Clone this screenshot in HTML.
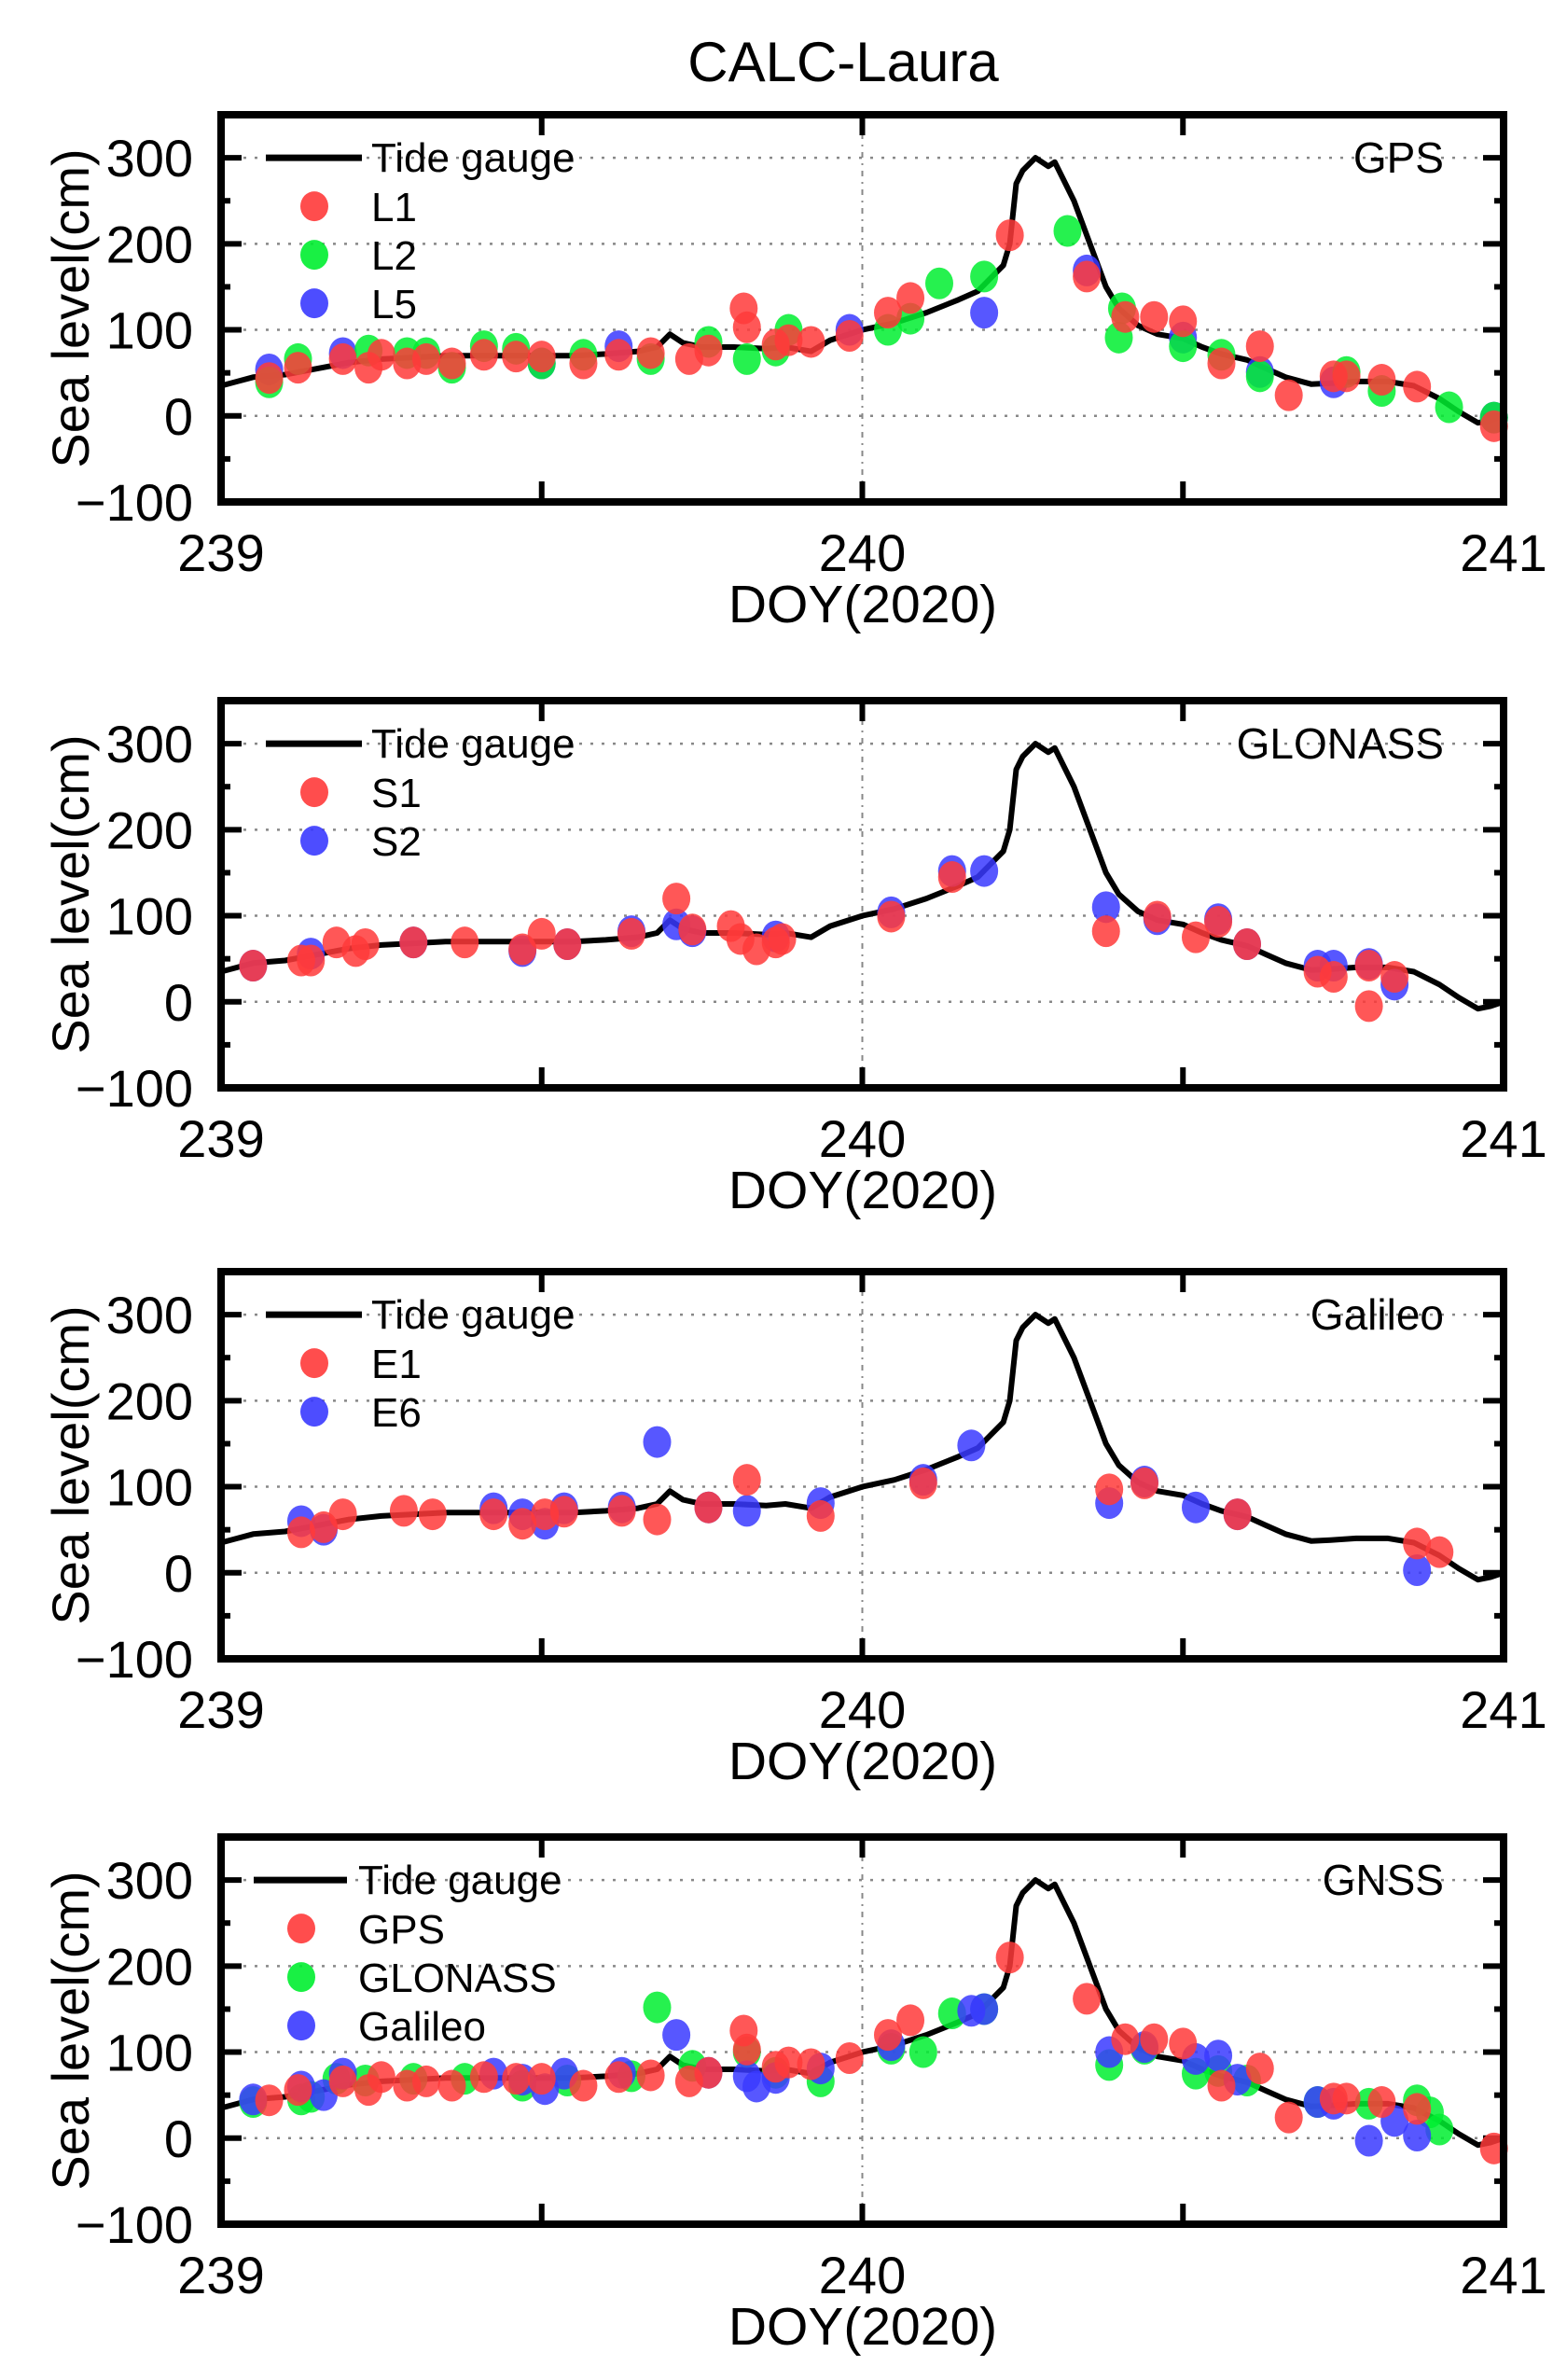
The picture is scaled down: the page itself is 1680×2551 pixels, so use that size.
<!DOCTYPE html>
<html><head><meta charset="utf-8"><style>
html,body{margin:0;padding:0;background:#fff;}
svg{display:block;font-family:"Liberation Sans",Arial,sans-serif;}
</style></head><body>
<svg id="chart" width="1680" height="2551" viewBox="0 0 1680 2551" xmlns="http://www.w3.org/2000/svg">
<text x="904" y="87" font-size="60" text-anchor="middle">CALC-Laura</text>
</svg>
<script>
// ---- data ----
const tideDays = [239.00,239.05,239.10,239.15,239.20,239.25,239.30,239.35,239.40,239.45,239.50,239.55,239.60,239.65,239.68,239.70,239.72,239.75,239.80,239.85,239.88,239.92,239.95,240.00,240.05,240.10,240.15,240.18,240.20,240.22,240.23,240.24,240.25,240.27,240.29,240.30,240.33,240.36,240.38,240.40,240.43,240.46,240.50,240.53,240.56,240.60,240.63,240.66,240.70,240.73,240.77,240.82,240.86,240.90,240.93,240.96,240.98,241.00];
const tideLevels = [35,45,48,55,62,66,68,70,70,70,70,70,72,75,80,95,85,80,80,78,80,75,88,100,108,120,135,145,160,175,200,270,285,300,290,295,250,190,150,125,105,95,90,80,72,65,55,45,37,38,40,40,35,20,5,-8,-5,0];

const l1Days = [239.075,239.12,239.19,239.23,239.25,239.29,239.32,239.36,239.41,239.46,239.50,239.565,239.62,239.67,239.73,239.76,239.815,239.82,239.865,239.885,239.92,239.98,240.04,240.075,240.23,240.35,240.41,240.455,240.50,240.56,240.62,240.665,240.735,240.755,240.81,240.865,240.985];
const l1Vals = [44,56,66,56,71,61,66,61,71,69,69,61,71,73,66,76,125,103,83,88,86,93,120,137,210,162,115,115,110,61,81,24,46,46,42,34,-12];
const l2Days = [239.075,239.12,239.23,239.29,239.32,239.36,239.41,239.46,239.50,239.565,239.67,239.76,239.82,239.865,239.885,240.04,240.075,240.12,240.19,240.32,240.405,240.40,240.50,240.56,240.62,240.755,240.81,240.915,240.985];
const l2Vals = [39,66,76,73,73,56,81,78,61,71,66,86,66,76,100,100,113,154,162,215,125,91,81,71,46,51,29,10,-2];
const l5Days = [239.075,239.19,239.50,239.62,239.98,240.19,240.35,240.50,240.62,240.735,240.985];
const l5Vals = [54,73,61,81,100,120,169,91,51,39,-2];

const s1Days = [239.05,239.125,239.14,239.18,239.21,239.225,239.30,239.38,239.47,239.50,239.54,239.64,239.71,239.735,239.795,239.81,239.835,239.865,239.875,240.045,240.14,240.38,240.46,240.52,240.555,240.60,240.71,240.735,240.79,240.79,240.83];
const s1Vals = [42,48,48,69,59,67,69,69,61,79,67,79,120,84,88,73,61,69,73,99,145,82,99,75,93,67,35,29,-5,42,29];
const s2Days = [239.05,239.14,239.30,239.47,239.54,239.64,239.71,239.735,239.865,240.045,240.14,240.19,240.38,240.46,240.555,240.60,240.71,240.735,240.79,240.83];
const s2Vals = [42,56,69,59,67,82,90,82,76,104,152,152,110,96,96,67,42,42,44,20];

const e1Days = [239.125,239.16,239.19,239.285,239.33,239.425,239.47,239.505,239.535,239.625,239.68,239.76,239.82,239.935,240.095,240.385,240.44,240.585,240.865,240.90];
const e1Vals = [47,53,68,72,68,68,57,68,71,72,62,76,108,66,104,97,104,68,34,24];
const e6Days = [239.125,239.16,239.425,239.47,239.505,239.535,239.625,239.68,239.76,239.82,239.935,240.095,240.17,240.385,240.44,240.52,240.585,240.865];
const e6Vals = [60,50,75,68,57,75,76,152,76,72,81,108,148,81,106,76,68,3];

const gnssGpsDays = l1Days;
const gnssGpsVals = l1Vals;
const gnssGloDays = [239.05,239.125,239.14,239.18,239.225,239.30,239.38,239.47,239.54,239.64,239.68,239.735,239.82,239.865,239.935,240.045,240.095,240.14,240.19,240.385,240.44,240.52,240.555,240.60,240.71,240.79,240.865,240.885,240.90];
const gnssGloVals = [42,45,48,69,67,69,69,61,67,72,152,84,100,76,66,104,100,145,150,85,104,75,78,67,42,40,44,30,10];
const gnssGalDays = [239.05,239.125,239.16,239.19,239.425,239.47,239.505,239.535,239.625,239.71,239.76,239.82,239.835,239.865,239.935,240.045,240.17,240.19,240.385,240.44,240.52,240.555,240.585,240.71,240.735,240.79,240.83,240.865];
const gnssGalVals = [45,60,50,75,75,68,57,75,76,120,76,72,60,70,81,108,148,150,100,106,92,96,68,42,40,-3,20,3];

const yTicks = [-100,0,100,200,300];
const xTicks = [239,240,241];

// ---- layout ----
const NS = "http://www.w3.org/2000/svg";
const svg = document.getElementById('chart');
const X0 = 237, X1 = 1612, H = 415;
const RED = "#ff3a3a", GREEN = "#00ee30", BLUE = "#3a3aff";
function mk(tag, attrs, parent){
  const e = document.createElementNS(NS, tag);
  for (const k in attrs) e.setAttribute(k, attrs[k]);
  (parent||svg).appendChild(e);
  return e;
}
function xs(d){ return X0 + (d - 239) / 2 * (X1 - X0); }

const panels = [
  {top:123, label:"GPS", name:"gps", series:[["L1",l1Days,l1Vals,RED],["L2",l2Days,l2Vals,GREEN],["L5",l5Days,l5Vals,BLUE]], order:[2,1,0], lx:[285,388,398,337]},
  {top:751, label:"GLONASS", name:"glonass", series:[["S1",s1Days,s1Vals,RED],["S2",s2Days,s2Vals,BLUE]], order:[1,0], lx:[285,388,398,337]},
  {top:1363, label:"Galileo", name:"galileo", series:[["E1",e1Days,e1Vals,RED],["E6",e6Days,e6Vals,BLUE]], order:[1,0], lx:[285,388,398,337]},
  {top:1969, label:"GNSS", name:"gnss", series:[["GPS",gnssGpsDays,gnssGpsVals,RED],["GLONASS",gnssGloDays,gnssGloVals,GREEN],["Galileo",gnssGalDays,gnssGalVals,BLUE]], order:[1,2,0], lx:[272,372,384,323]}
];

panels.forEach(p => {
  const g = mk('g', {});
  
  
  const top = p.top, bot = top + H;
  const ys = v => top + (350 - v) / 450 * H;
  yTicks.forEach(v => {
    if (v <= -100) return;
    const l = mk('line', {x1:X0, x2:X1, y1:ys(v), y2:ys(v), stroke:"#888", 'stroke-width':2.5, 'stroke-dasharray':"3,9"}, g);
    
    
  });
  const vg = mk('line', {x1:xs(240), x2:xs(240), y1:top, y2:bot, stroke:"#888", 'stroke-width':2, 'stroke-dasharray':"6,6,2,6"}, g);
  
  
  for (let v = -100; v <= 350; v += 50) {
    const len = (v % 100 === 0) ? 22 : 10;
    mk('line', {x1:X0, x2:X0+len, y1:ys(v), y2:ys(v), stroke:"#000", 'stroke-width':6}, g);
    mk('line', {x1:X1, x2:X1-len, y1:ys(v), y2:ys(v), stroke:"#000", 'stroke-width':6}, g);
  }
  [239, 239.5, 240, 240.5, 241].forEach(d => {
    mk('line', {x1:xs(d), x2:xs(d), y1:top, y2:top+22, stroke:"#000", 'stroke-width':6}, g);
    mk('line', {x1:xs(d), x2:xs(d), y1:bot, y2:bot-22, stroke:"#000", 'stroke-width':6}, g);
  });
  let dstr = tideDays.map((d,i) => (i?'L':'M') + xs(d).toFixed(1) + ',' + ys(tideLevels[i]).toFixed(1)).join(' ');
  const tl = mk('path', {d:dstr, fill:"none", stroke:"#000", 'stroke-width':6, 'stroke-linejoin':"round"}, g);
  
  
  p.order.forEach(si => {
    const s = p.series[si];
    s[1].forEach((d, i) => {
      const c = mk('ellipse', {cx:xs(d), cy:ys(s[2][i]), rx:15, ry:17, fill:s[3], 'fill-opacity':0.85}, g);
      
      
    });
  });
  const fr = mk('rect', {x:X0, y:top, width:X1-X0, height:H, fill:"none", stroke:"#000", 'stroke-width':8}, g);
  
  
  yTicks.forEach(v => {
    const t = mk('text', {x:207, y:ys(v)+20, 'font-size':56, 'text-anchor':"end"}, g);
    
    
    t.textContent = v < 0 ? '\u2212' + (-v) : String(v);
  });
  xTicks.forEach(d => {
    const t = mk('text', {x:xs(d), y:bot+74, 'font-size':56, 'text-anchor':"middle"}, g);
    
    
    t.textContent = String(d);
  });
  const xt = mk('text', {x:925, y:bot+129, 'font-size':57, 'text-anchor':"middle"}, g);
  
  
  xt.textContent = 'DOY(2020)';
  const cy = top + H/2;
  const yt = mk('text', {x:0, y:0, 'font-size':56, 'text-anchor':"middle", transform:'translate(95,' + cy + ') rotate(-90)'}, g);
  
  
  yt.textContent = 'Sea level(cm)';
  const ly = ys(300);
  const ll = mk('line', {x1:p.lx[0], x2:p.lx[1], y1:ly, y2:ly, stroke:"#000", 'stroke-width':7}, g);
  
  
  const lt = mk('text', {x:p.lx[2], y:ly+15, 'font-size':44}, g);
  
  
  lt.textContent = 'Tide gauge';
  p.series.forEach((s, i) => {
    const yy = ly + 52*(i+1);
    const m = mk('ellipse', {cx:p.lx[3], cy:yy, rx:15, ry:16, fill:s[3], 'fill-opacity':0.9}, g);
    
    
    const t = mk('text', {x:p.lx[2], y:yy+16, 'font-size':44}, g);
    
    
    t.textContent = s[0];
  });
  const pl = mk('text', {x:1548, y:ly+16, 'font-size':46, 'text-anchor':"end"}, g);
  
  
  pl.textContent = p.label;
});
</script>
</body></html>
